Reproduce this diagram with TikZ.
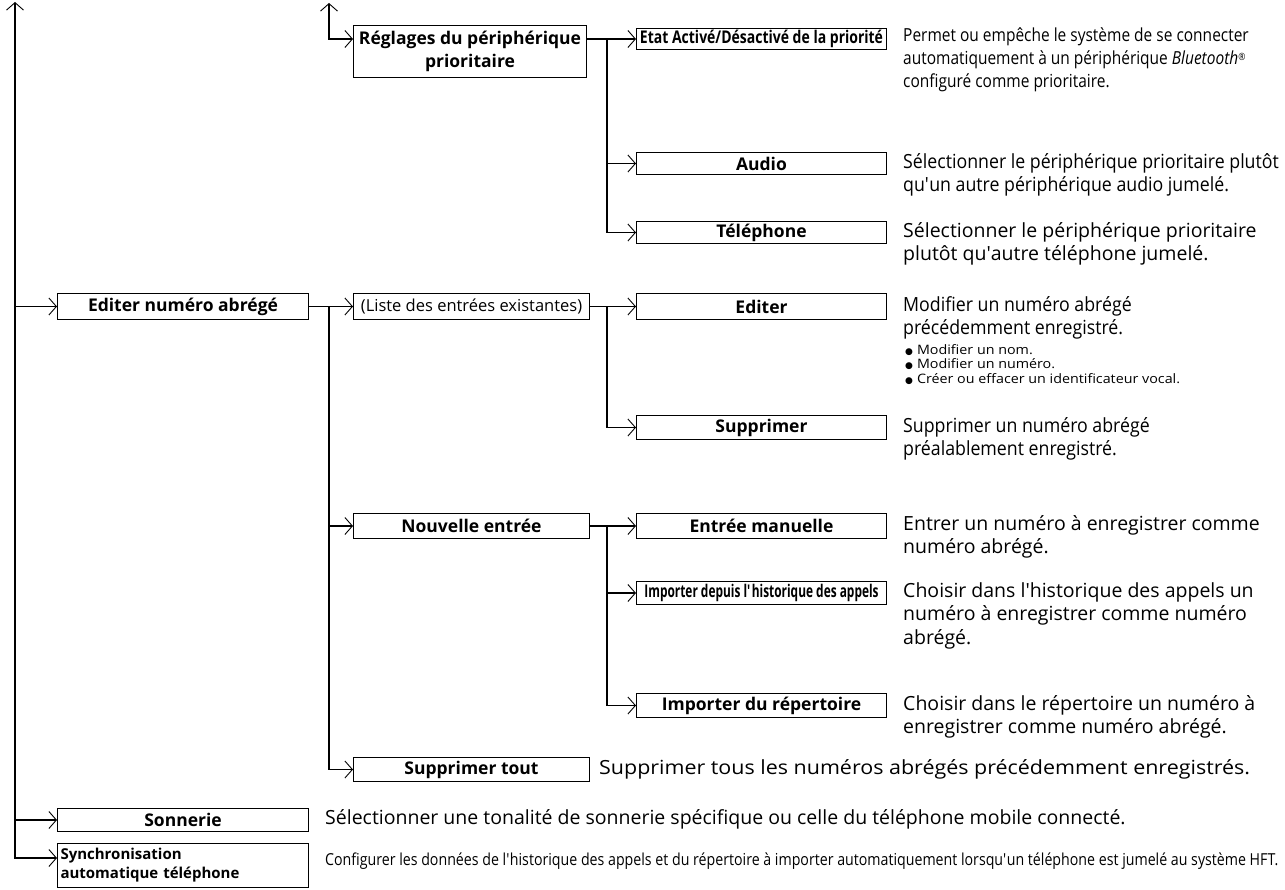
\documentclass[tikz,border=0pt]{standalone}
\usepackage{fontspec}
\setmainfont{Open Sans}
\newfontfamily\condA[FakeStretch=0.8]{Open Sans}
\newfontfamily\condC[FakeStretch=0.86]{Open Sans}
\newfontfamily\condD[FakeStretch=0.91]{Open Sans}
\newfontfamily\condE[FakeStretch=0.68]{Open Sans}
\newfontfamily\wideA[FakeStretch=1.1]{Open Sans}
\newfontfamily\dejavu{DejaVu Sans}
\usetikzlibrary{arrows.meta,calc}
\newcommand{\bul}{{\dejavu\fontsize{9}{9}\selectfont ●}\hspace{4pt}}
\newcommand{\apos}{\textquotesingle}
\begin{document}
\begin{tikzpicture}[x=1pt,y=-1pt,
  >={Straight Barb[length=7.5pt,width=17pt,line width=0.9pt]},
  conn/.style={line width=1.8pt},
  box/.style={draw, line width=1pt, anchor=north west, inner sep=0pt, align=center,
    font=\bfseries\fontsize{17.5}{23}\selectfont},
  desc/.style={anchor=north west, inner sep=0pt, align=left, font=\fontsize{19.5}{23.5}\selectfont},
  sdesc/.style={anchor=base west, inner sep=0pt, font=\fontsize{19.5}{23.5}\selectfont}]
\useasboundingbox (0,0) rectangle (1285,889);

% boxes
\node[box, minimum width=233, minimum height=52] (reg) at (353,25) {Réglages du périphérique\\prioritaire};
\node[box, minimum width=250, minimum height=21, font=\condA\bfseries\fontsize{17.5}{20}\selectfont] (etat) at (636,28) {Etat Activé/Désactivé de la priorité};
\node[box, minimum width=250, minimum height=22] (audio) at (636,152) {Audio};
\node[box, minimum width=250, minimum height=22] (tel) at (636,221) {Téléphone};
\node[box, minimum width=251, minimum height=26] (edit) at (57,293) {Editer numéro abrégé};
\node[box, minimum width=236, minimum height=26, font=\fontsize{16.5}{20}\selectfont] (liste) at (353,293) {(Liste des entrées existantes)};
\node[box, minimum width=250, minimum height=26] (editer) at (636,293) {Editer};
\node[box, minimum width=250, minimum height=24] (suppr) at (636,415) {Supprimer};
\node[box, minimum width=236, minimum height=25] (nouv) at (353,513) {Nouvelle entrée};
\node[box, minimum width=250, minimum height=25] (manu) at (636,513) {Entrée manuelle};
\node[box, minimum width=250, minimum height=23, font=\condE\bfseries\fontsize{17.5}{20}\selectfont] (hist) at (636,581) {Importer depuis l\apos historique des appels};
\node[box, minimum width=250, minimum height=24] (rep) at (636,693) {Importer du répertoire};
\node[box, minimum width=236, minimum height=24] (supt) at (353,757) {Supprimer tout};
\node[box, minimum width=251, minimum height=23] (son) at (57,808) {Sonnerie};
\node[box, minimum height=44, text width=245, inner xsep=3pt, align=left, font=\bfseries\fontsize{15}{19}\selectfont] (sync) at (57,843) {Synchronisation\\automatique téléphone};

% connector anchor points
\coordinate (top) at (15,2);
\coordinate (rtop) at (329,3);
\coordinate (regin) at ($(reg.north west)+(0,14)$);
\coordinate (regout) at ($(reg.north east)+(0,14)$);
\coordinate (syncin) at ($(sync.north west)+(0,15)$);
\coordinate (jA) at (329,0);
\coordinate (jB) at (607,0);

% connectors
\draw[conn,<->] (top) |- (syncin);
\draw[conn,->] (top |- edit.west) -- (edit.west);
\draw[conn,->] (top |- son.west) -- (son.west);
\draw[conn,<->] (rtop) |- (regin);
\draw[conn,->] (regout) -- (etat.west |- regout);
\draw[conn] (jB |- regout) -- (jB |- tel.west);
\draw[conn,->] (jB |- audio.west) -- (audio.west);
\draw[conn,->] (jB |- tel.west) -- (tel.west);
\draw[conn,->] (edit.east) -- (liste.west);
\draw[conn] (jA |- edit.east) -- (jA |- supt.west);
\draw[conn,->] (jA |- nouv.west) -- (nouv.west);
\draw[conn,->] (jA |- supt.west) -- (supt.west);
\draw[conn,->] (liste.east) -- (editer.west);
\draw[conn] (jB |- liste.east) -- (jB |- suppr.west);
\draw[conn,->] (jB |- suppr.west) -- (suppr.west);
\draw[conn,->] (nouv.east) -- (manu.west);
\draw[conn] (jB |- nouv.east) -- (jB |- rep.west);
\draw[conn,->] (jB |- hist.west) -- (hist.west);
\draw[conn,->] (jB |- rep.west) -- (rep.west);

% descriptions
\node[desc, font=\condC\fontsize{18}{23}\selectfont] (detat) at (903,28) {Permet ou empêche le système de se connecter\\automatiquement à un périphérique \textit{Bluetooth}\raisebox{4pt}{\fontsize{10}{10}\selectfont ®}\\configuré comme prioritaire.};
\node[desc, font=\condD\fontsize{19.5}{23.5}\selectfont] (daudio) at (903,153) {Sélectionner le périphérique prioritaire plutôt\\qu\apos un autre périphérique audio jumelé.};
\node[desc] (dtel) at (903,222) {Sélectionner le périphérique prioritaire\\plutôt qu\apos autre téléphone jumelé.};
\node[desc, font=\condD\fontsize{19.5}{23.5}\selectfont] (dediter) at (903,296) {Modifier un numéro abrégé\\précédemment enregistré.};
\node[desc, font=\wideA\fontsize{13}{14.5}\selectfont] (dbul) at (905,344) {\bul Modifier un nom.\\\bul Modifier un numéro.\\\bul Créer ou effacer un identificateur vocal.};
\node[desc, font=\condD\fontsize{19.5}{23.5}\selectfont] (dsuppr) at (903,417) {Supprimer un numéro abrégé\\préalablement enregistré.};
\node[desc] (dmanu) at (903,515) {Entrer un numéro à enregistrer comme\\numéro abrégé.};
\node[desc] (dhist) at (903,582) {Choisir dans l\apos historique des appels un\\numéro à enregistrer comme numéro\\abrégé.};
\node[desc] (drep) at (903,695) {Choisir dans le répertoire un numéro à\\enregistrer comme numéro abrégé.};
\node[sdesc, font=\wideA\fontsize{19.5}{23.5}\selectfont] (dsupt) at (599,774) {Supprimer tous les numéros abrégés précédemment enregistrés.};
\node[sdesc] (dson) at (325,824) {Sélectionner une tonalité de sonnerie spécifique ou celle du téléphone mobile connecté.};
\node[sdesc, font=\condC\fontsize{16.5}{20}\selectfont] (dsync) at (325,865) {Configurer les données de l\apos historique des appels et du répertoire à importer automatiquement lorsqu\apos un téléphone est jumelé au système HFT.};
\end{tikzpicture}
\end{document}
